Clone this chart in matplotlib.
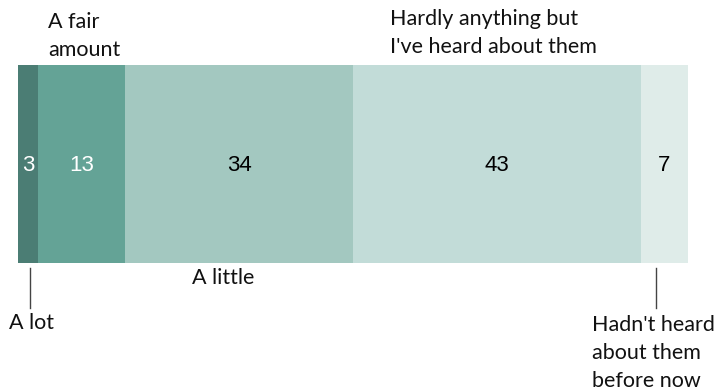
import matplotlib
matplotlib.use('Agg')
import matplotlib.pyplot as plt

# Data
categories = ['A lot', 'A fair amount', 'A little',
              "Hardly anything but I've heard about them",
              "Hadn't heard about them before now"]
values = [3, 13, 34, 43, 7]
colors = ['#4b7d74', '#64a396', '#a3c8c0', '#c2dcd8', '#dfece9']
value_colors = ['white', 'white', 'black', 'black', 'black']

W, H = 720, 392
fig = plt.figure(figsize=(W / 100, H / 100), dpi=100)
ax = fig.add_axes([18 / W, 1 - 263 / H, 670 / W, 198 / H])

left = 0
for v, c, tc in zip(values, colors, value_colors):
    ax.barh(0, v, left=left, height=1, color=c, edgecolor='none')
    ax.text(left + v / 2, -0.01, str(v), ha='center', va='center',
            color=tc, fontsize=16, family='Liberation Sans')
    left += v

ax.set_xlim(0, sum(values))
ax.set_ylim(-0.5, 0.5)
ax.axis('off')

label_font = dict(family='Lato', fontsize=15.5, color='#111111', linespacing=1.5)


def px(x, y):
    return x / W, 1 - y / H


# labels above the bar
fig.text(*px(48, 12), 'A fair\namount', ha='left', va='top', **label_font)
fig.text(*px(390, 9), "Hardly anything but\nI've heard about them",
         ha='left', va='top', **label_font)
# labels below the bar
fig.text(*px(223, 268), 'A little', ha='center', va='top', **label_font)
fig.text(*px(9, 313), 'A lot', ha='left', va='top', **label_font)
fig.text(*px(592, 315), "Hadn't heard\nabout them\nbefore now",
         ha='left', va='top', **label_font)

# leader lines
for xp in (30, 656):
    fig.add_artist(plt.Line2D([xp / W, xp / W], [1 - 268 / H, 1 - 308 / H],
                              color='#444444', linewidth=1))

fig.savefig('out.png', dpi=100)
